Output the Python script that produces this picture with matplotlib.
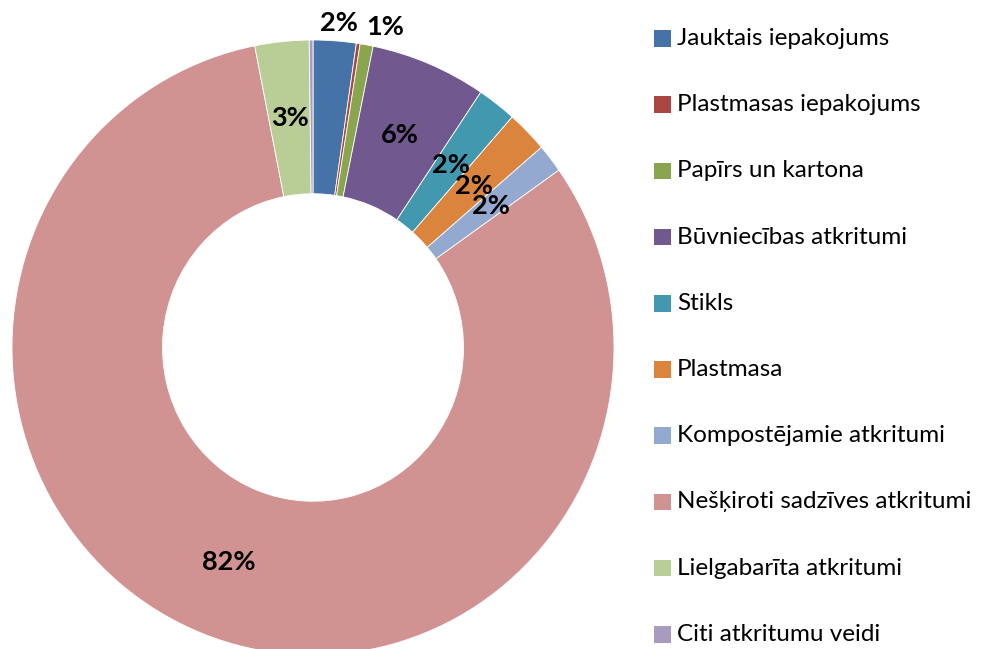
import matplotlib
matplotlib.use("Agg")
import matplotlib.pyplot as plt
from matplotlib.patches import Rectangle
import numpy as np

W, H = 981, 649

categories = [
    "Jauktais iepakojums",
    "Plastmasas iepakojums",
    "Papīrs un kartona",
    "Būvniecības atkritumi",
    "Stikls",
    "Plastmasa",
    "Kompostējamie atkritumi",
    "Nešķiroti sadzīves atkritumi",
    "Lielgabarīta atkritumi",
    "Citi atkritumu veidi",
]
shares = [2.3, 0.2, 0.7, 6.2, 2.1, 2.2, 1.5, 81.6, 2.9, 0.2]
colors = ["#4572A7", "#AA4643", "#89A54E", "#71588F", "#4198AF",
          "#DB843D", "#93A9CF", "#D19392", "#B9CD96", "#A99BBD"]
label_text = ["2%", "", "1%", "6%", "2%", "2%", "2%", "82%", "3%", ""]
# small slices have their labels pulled outside the ring
label_r = [1.06, 0.75, 1.07, 0.75, 0.75, 0.75, 0.75, 0.75, 0.75, 0.75]
label_da = [0.6, 0, 2.7, 0, 0, 0, 0, 0, 0, 0]

fig = plt.figure(figsize=(W / 100, H / 100), dpi=100)

# ring spans x 12..614, y 40..655 (px)
ax = fig.add_axes([12 / W, (H - 655) / H, 602 / W, 615 / H])
wedges, _ = ax.pie(shares, colors=colors, startangle=90, counterclock=False,
                   radius=1.0, wedgeprops=dict(width=0.5, edgecolor="white", linewidth=0.6))
ax.set_aspect("auto")
ax.set_xlim(-1, 1)
ax.set_ylim(-1, 1)
ax.axis("off")

cum = np.cumsum([0] + shares[:-1])
total = sum(shares)
for i, txt in enumerate(label_text):
    if not txt:
        continue
    mid = (cum[i] + shares[i] / 2) / total * 360 + label_da[i]
    a = np.deg2rad(mid)
    x = label_r[i] * np.sin(a)
    y = label_r[i] * np.cos(a)
    ax.text(x, y, txt, ha="center", va="center", fontsize=19.5,
            fontweight="bold", family="Lato", color="black", clip_on=False)

# legend drawn by hand, one row per category
for i, (name, c) in enumerate(zip(categories, colors)):
    yc = 38.5 + i * 66.2
    fig.patches.append(Rectangle((654 / W, 1 - (yc + 8.3) / H), 16.7 / W, 16.6 / H,
                                 transform=fig.transFigure, facecolor=c, edgecolor="none"))
    fig.text(677 / W, 1 - yc / H, name, ha="left", va="center",
             fontsize=17.5, family="Lato", color="black")

fig.savefig("out.png", dpi=100)
